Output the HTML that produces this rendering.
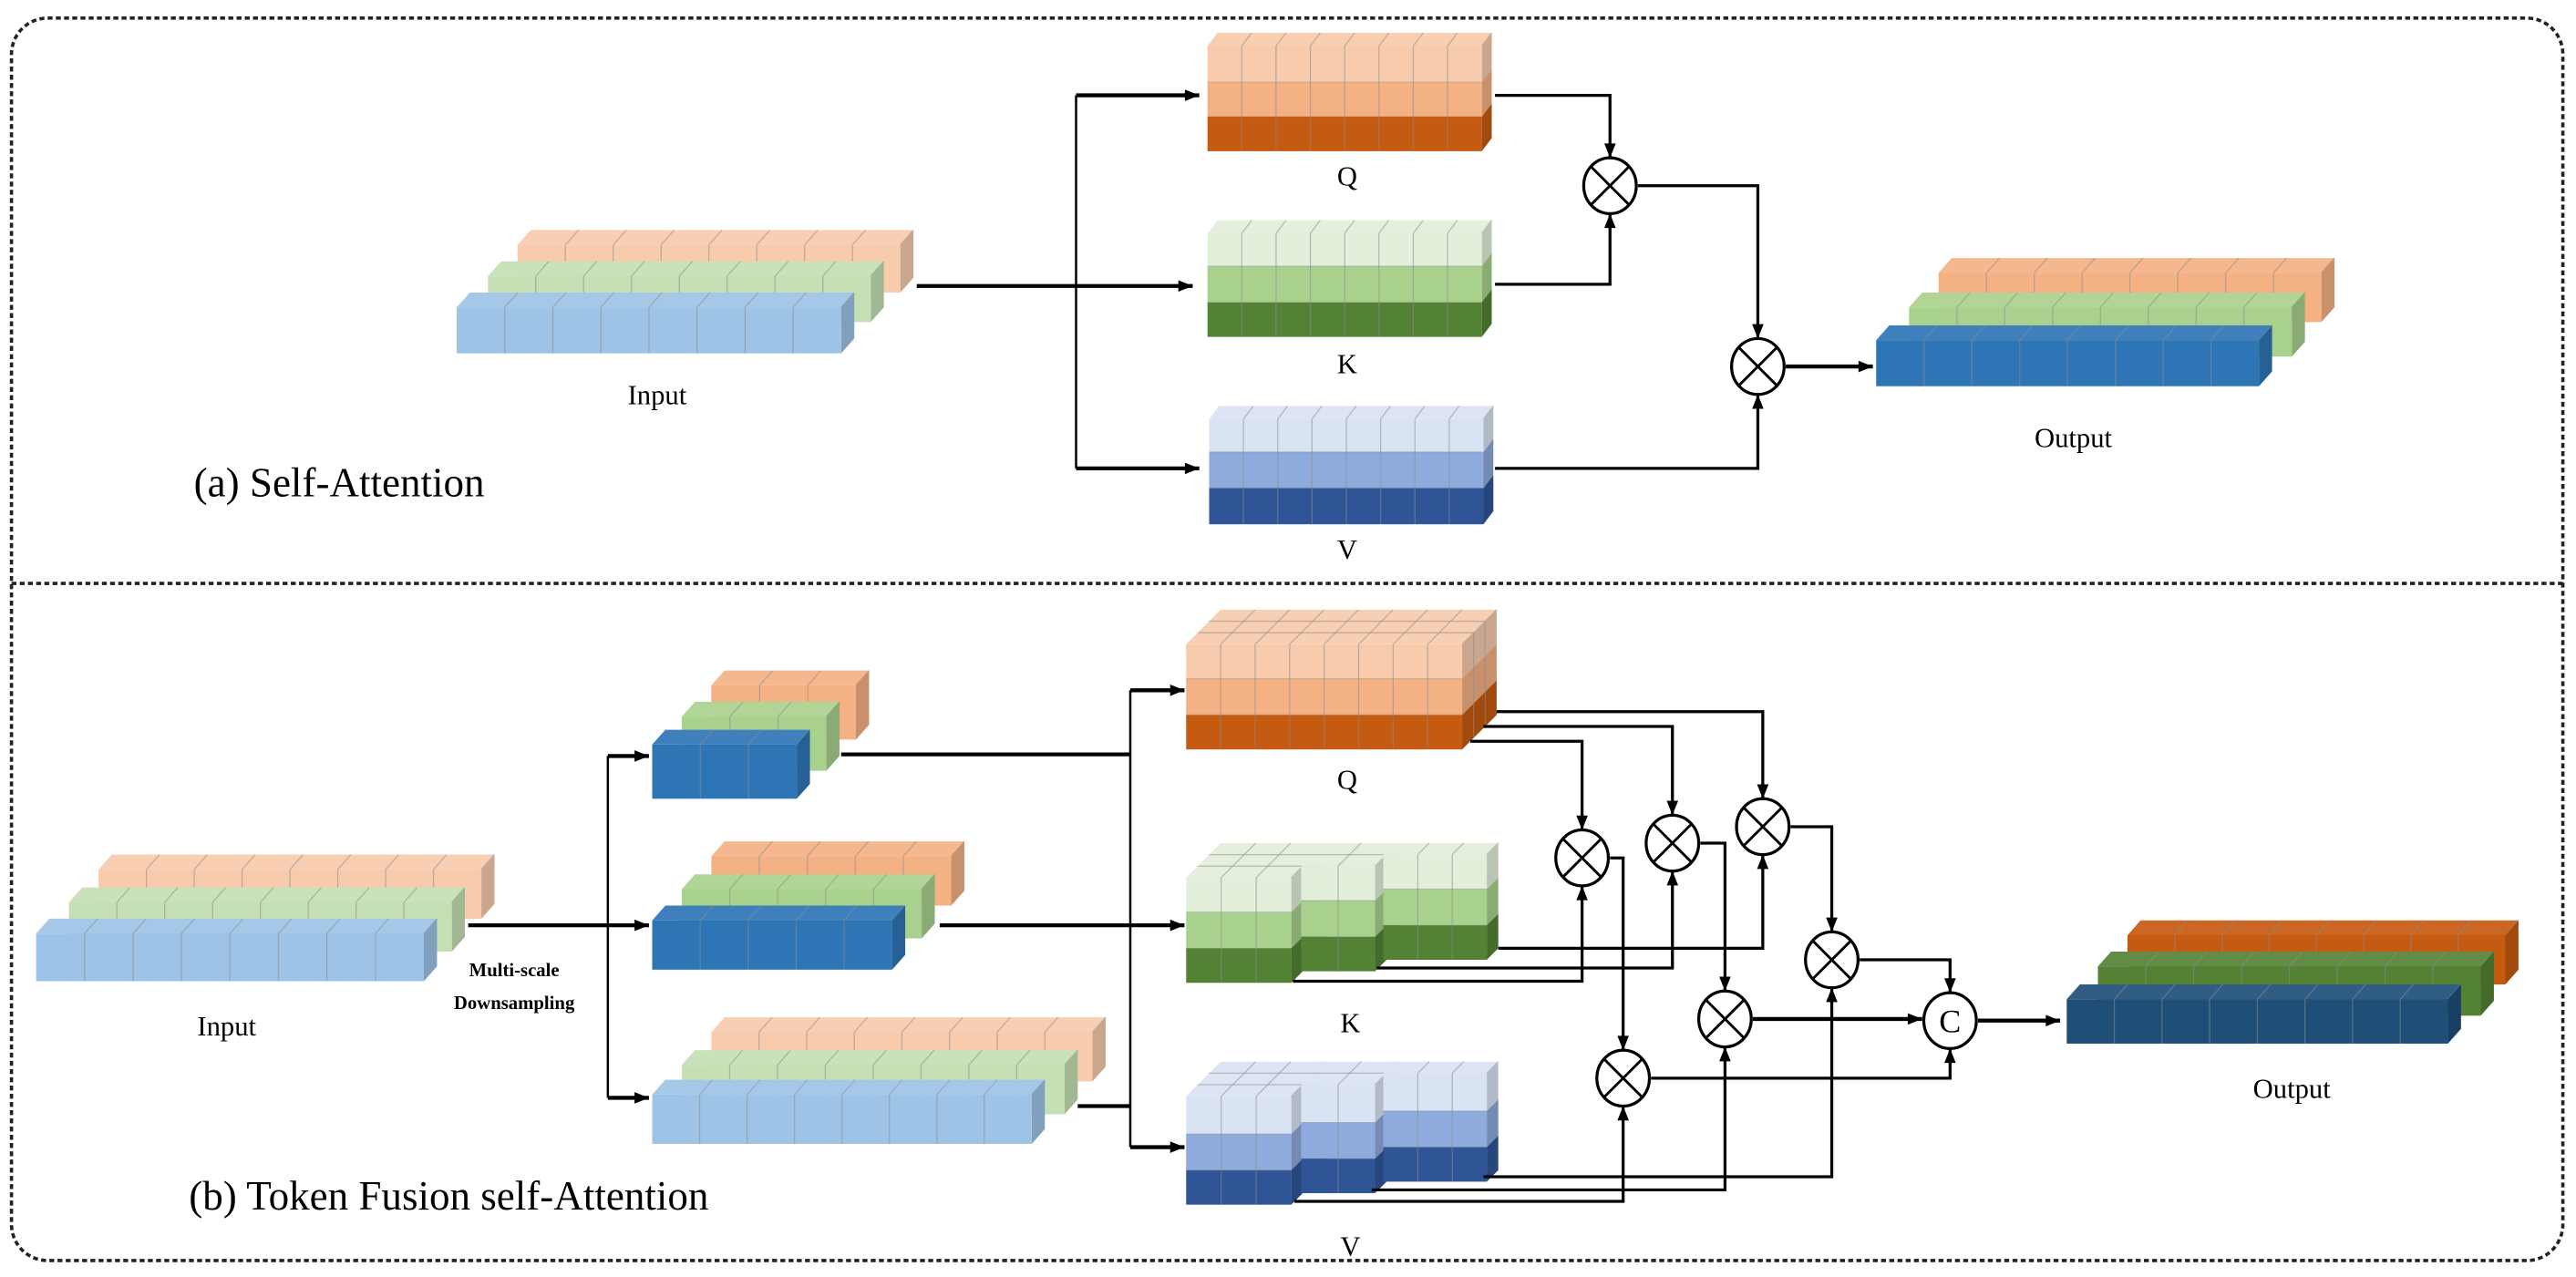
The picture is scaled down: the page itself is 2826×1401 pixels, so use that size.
<!DOCTYPE html>
<html><head><meta charset="utf-8">
<style>
html,body{margin:0;padding:0;background:#fff;}
svg{display:block;}
text{font-family:"Liberation Serif",serif;fill:#000;}
</style></head>
<body>
<svg id="s" xmlns="http://www.w3.org/2000/svg" width="2826" height="1401" viewBox="0 0 1568 777" preserveAspectRatio="none">
<defs>
<marker id="a" viewBox="0 0 10 8" refX="10" refY="4" markerWidth="9" markerHeight="7" markerUnits="userSpaceOnUse" orient="auto">
<path d="M0,0 L10,4 L0,8 Z" fill="#000"/></marker>
</defs>
<rect x="7" y="11" width="1553" height="756" rx="22" ry="22" fill="none" stroke="#222" stroke-width="2" stroke-dasharray="3 2"/>
<line x1="7" y1="355" x2="1560" y2="355" stroke="#222" stroke-width="2" stroke-dasharray="3 2"/>
<g id="g"></g>
<text x="400" y="246" font-size="17" text-anchor="middle">Input</text>
<text x="820" y="113" font-size="17" text-anchor="middle">Q</text>
<text x="820" y="227" font-size="17" text-anchor="middle">K</text>
<text x="820" y="340" font-size="17" text-anchor="middle">V</text>
<text x="1262" y="272" font-size="17" text-anchor="middle">Output</text>
<text x="118" y="302" font-size="25">(a) Self-Attention</text>
<text x="138" y="630" font-size="17" text-anchor="middle">Input</text>
<text x="313" y="594" font-size="11.5" font-weight="bold" text-anchor="middle">Multi-scale</text>
<text x="313" y="614" font-size="11.5" font-weight="bold" text-anchor="middle">Downsampling</text>
<text x="820" y="480" font-size="17" text-anchor="middle">Q</text>
<text x="822" y="628" font-size="17" text-anchor="middle">K</text>
<text x="822" y="764" font-size="17" text-anchor="middle">V</text>
<text x="1395" y="668" font-size="17" text-anchor="middle">Output</text>
<text x="115" y="736" font-size="25">(b) Token Fusion self-Attention</text>
</svg>
<script>
(function(){
var g=document.getElementById('g');var NS='http://www.w3.org/2000/svg';
function el(t,a){var e=document.createElementNS(NS,t);for(var k in a)e.setAttribute(k,a[k]);g.appendChild(e);return e;}
function sh(hex,f){var n=parseInt(hex.slice(1),16);var r=n>>16,gg=(n>>8)&255,b=n&255;
 function c(v){return Math.max(0,Math.min(255,Math.round(f<1?v*f:v+(255-v)*(f-1))));}
 return 'rgb('+c(r)+','+c(gg)+','+c(b)+')';}
function poly(p,fill){el('polygon',{points:p.map(function(q){return q.join(',')}).join(' '),fill:fill});}
function ln(x1,y1,x2,y2,c,w){el('line',{x1:x1,y1:y1,x2:x2,y2:y2,stroke:c||'rgba(140,140,140,0.55)','stroke-width':w||0.7});}
function block(x,y,w,rows,n,dx,dy,L){
 L=L||1;var H=0;rows.forEach(function(r){H+=r[0];});var cw=w/n;
 poly([[x,y],[x+w,y],[x+w+dx,y-dy],[x+dx,y-dy]],sh(rows[0][1],1.08));
 for(var i=1;i<=n;i++){ln(x+i*cw,y,x+i*cw+dx,y-dy);}
 for(var j=1;j<L;j++){var f=j/L;ln(x+dx*f,y-dy*f,x+w+dx*f,y-dy*f);}
 var yy=y;rows.forEach(function(r){
  poly([[x+w,yy],[x+w+dx,yy-dy],[x+w+dx,yy+r[0]-dy],[x+w,yy+r[0]]],sh(r[1],0.82));
  for(var j=1;j<L;j++){var f=j/L;ln(x+w+dx*f,yy-dy*f,x+w+dx*f,yy+r[0]-dy*f);}
  yy+=r[0];});
 yy=y;rows.forEach(function(r){
  el('rect',{x:x,y:yy,width:w,height:r[0],fill:r[1]});
  for(var i=1;i<n;i++)ln(x+i*cw,yy,x+i*cw,yy+r[0]);
  if(yy>y)ln(x,yy,x+w,yy,'rgba(120,120,120,0.35)',0.6);
  yy+=r[0];});
}
function pl(pts,arrow,w){var e=el('polyline',{points:pts.map(function(q){return q.join(',')}).join(' '),fill:'none',stroke:'#000','stroke-width':w||1.8});if(arrow)e.setAttribute('marker-end','url(#a)');}
function circ(cx,cy,r,X){el('ellipse',{cx:cx,cy:cy,rx:r-1,ry:r,fill:'#fff',stroke:'#000','stroke-width':1.8});
 if(X){var d=r*0.7;ln(cx-d,cy-d,cx+d,cy+d,'#000',1.6);ln(cx-d,cy+d,cx+d,cy-d,'#000',1.6);}}
var LP='#f8cbad',MP='#f4b183',DO='#c55a11',LG='#e2efda',MG='#a9d18e',DG='#548235',LB='#dae3f3',MB='#8faadc',DB='#2f5597',IB='#9dc3e6',IG='#c5e0b4',B2='#2e75b6';
// ---- (a)
block(315,149,233,[[29,LP]],8,8,9);
block(297,168,233,[[28,IG]],8,8,9);
block(278,187,234,[[28,IB]],8,8,9);
block(735,28,167,[[22,LP],[21,MP],[21,DO]],8,6,8);
block(735,142,167,[[20,LG],[22,MG],[21,DG]],8,6,8);
block(736,255,167,[[20,LB],[22,MB],[22,DB]],8,6,8);
block(1180,166,233,[[30,MP]],8,8,9);
block(1162,187,233,[[30,MG]],8,8,9);
block(1142,207,233,[[28,B2]],8,8,9);
pl([[558,174],[726,174]],1,2.4);
pl([[655,58],[655,285]],0,1.4);
pl([[655,58],[730,58]],1,2.4);
pl([[655,285],[730,285]],1,2.4);
pl([[910,58],[980,58],[980,96]],1);
pl([[910,173],[980,173],[980,130]],1);
circ(980,113,17,1);
pl([[997,113],[1070,113],[1070,206]],1);
pl([[910,285],[1070,285],[1070,240]],1);
circ(1070,223,17,1);
pl([[1087,223],[1140,223]],1,2.4);
// ---- (b)
block(60,529,233,[[30,LP]],8,8,9);
block(42,549,233,[[30,IG]],8,8,9);
block(22,568,236,[[29,IB]],8,8,9);
block(433,417,88,[[33,MP]],3,8,9);
block(415,436,88,[[33,MG]],3,8,9);
block(397,453,88,[[33,B2]],3,8,9);
block(433,521,146,[[30,MP]],5,8,9);
block(415,541,146,[[30,MG]],5,8,9);
block(397,560,146,[[30,B2]],5,8,9);
block(433,628,232,[[30,LP]],8,8,9);
block(415,648,233,[[30,IG]],8,8,9);
block(397,666,231,[[30,IB]],8,8,9);
pl([[285,563],[395,563]],1,2.4);
pl([[370,460],[370,668]],0,1.4);
pl([[370,460],[395,460]],1,2.4);
pl([[370,668],[395,668]],1,2.4);
pl([[512,459],[688,459]],0,2.4);
pl([[572,563],[721,563]],1,2.4);
pl([[656,673],[688,673]],0,2.4);
pl([[688,420],[688,698]],0,1.4);
pl([[688,420],[721,420]],1,2.4);
pl([[688,698],[721,698]],1,2.4);
block(722,392,168,[[21,LP],[22,MP],[21,DO]],8,21,21,3);
// K (front block drawn first, later blocks cover its side)
block(722,534,64,[[21,LG],[22,MG],[21,DG]],3,21,21,3);
block(792,527,45,[[21,LG],[22,MG],[21,DG]],2,14,14,2);
block(842,520,63,[[21,LG],[22,MG],[21,DG]],3,7,7,1);
// V
block(722,667,64,[[23,LB],[22,MB],[21,DB]],3,21,21,3);
block(792,660,45,[[23,LB],[22,MB],[21,DB]],2,14,14,2);
block(842,653,63,[[23,LB],[22,MB],[21,DB]],3,7,7,1);
// output b
block(1295,569,230,[[30,DO]],8,8,9);
block(1277,588,233,[[30,DG]],8,8,9);
block(1258,608,232,[[27,'#1f4e79']],8,8,9);
// connectors
pl([[911,433],[1073,433],[1073,486]],1);
pl([[903,442],[1018,442],[1018,496]],1);
pl([[895,451],[963,451],[963,505]],1);
pl([[912,577],[1073,577],[1073,520]],1);
pl([[838,589],[1018,589],[1018,530]],1);
pl([[787,597],[963,597],[963,539]],1);
pl([[980,522],[988,522],[988,639]],1);
pl([[1035,513],[1050,513],[1050,603]],1);
pl([[1090,503],[1115,503],[1115,567]],1);
pl([[903,716],[1115,716],[1115,601]],1);
pl([[835,724],[1050,724],[1050,637]],1);
pl([[788,731],[988,731],[988,673]],1);
circ(963,522,17,1);circ(1018,513,17,1);circ(1073,503,17,1);
circ(1115,584,17,1);circ(1050,620,17,1);circ(988,656,17,1);
pl([[1132,584],[1187,584],[1187,604]],1);
pl([[1067,620],[1170,620]],1,2.4);
pl([[1005,656],[1187,656],[1187,638]],1);
circ(1187,621,17,0);
var t=el('text',{x:1187,y:628,'font-size':20,'text-anchor':'middle'});t.textContent='C';
pl([[1204,621],[1254,621]],1,2.4);
})();
</script>
</body></html>
